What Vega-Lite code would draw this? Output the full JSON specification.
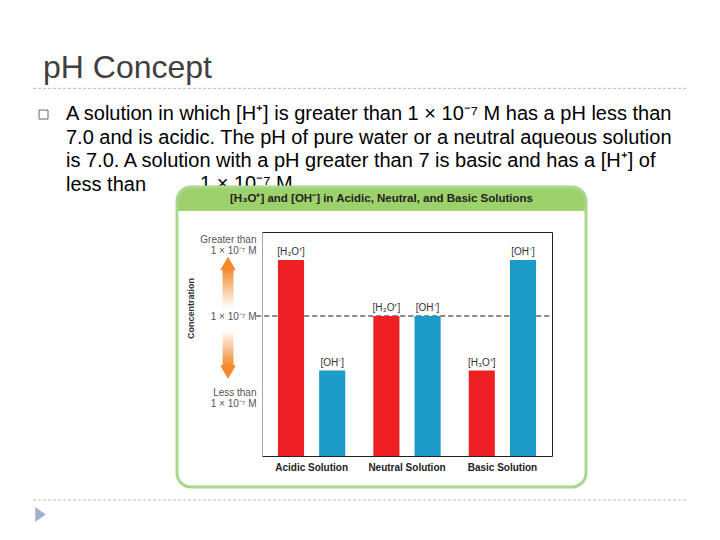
{
  "$schema": "https://vega.github.io/schema/vega-lite/v6.json",
  "width": 290,
  "height": 224,
  "autosize": {"type": "none"},
  "padding": {"left": 262, "top": 232, "right": 168, "bottom": 84},
  "background": "white",
  "config": {"view": {"stroke": "#222", "strokeWidth": 1}, "font": "Liberation Sans"},
  "resolve": {"scale": {"x": "independent"}, "axis": {"x": "independent", "y": "independent"}},
  "layer": [
    {
      "data": {"values": [{}]},
      "layer": [
        {
          "mark": {"type": "rule", "color": "#bdbdbd", "strokeWidth": 1, "strokeDash": [3, 2]},
          "encoding": {
            "x": {"datum": -0.7897, "type": "quantitative", "scale": {"domain": [0, 1], "nice": false, "zero": false}, "axis": null},
            "x2": {"datum": 1.469},
            "y": {"datum": 26.26, "type": "quantitative", "scale": {"domain": [0, 16], "nice": false}, "axis": null}
          }
        },
        {
          "mark": {"type": "rule", "color": "#bdbdbd", "strokeWidth": 1, "strokeDash": [3, 2]},
          "encoding": {
            "x": {"datum": -0.7897, "type": "quantitative", "scale": {"domain": [0, 1], "nice": false, "zero": false}, "axis": null},
            "x2": {"datum": 1.469},
            "y": {"datum": -3.143, "type": "quantitative", "scale": {"domain": [0, 16], "nice": false}, "axis": null}
          }
        },
        {
          "mark": {"type": "point", "shape": "M-0.7,-1L0.7,0L-0.7,1Z", "size": 225, "filled": true, "color": "#9fb0cc", "opacity": 1, "strokeWidth": 0},
          "encoding": {
            "x": {"datum": -0.7638, "type": "quantitative", "scale": {"domain": [0, 1], "nice": false, "zero": false}, "axis": null},
            "y": {"datum": -4.18, "type": "quantitative", "scale": {"domain": [0, 16], "nice": false}, "axis": null}
          }
        },
        {
          "mark": {"type": "point", "shape": "square", "size": 81, "filled": false, "color": "#666", "opacity": 1, "strokeWidth": 1},
          "encoding": {
            "x": {"datum": -0.7534, "type": "quantitative", "scale": {"domain": [0, 1], "nice": false, "zero": false}, "axis": null},
            "y": {"datum": 24.39, "type": "quantitative", "scale": {"domain": [0, 16], "nice": false}, "axis": null}
          }
        },
        {
          "mark": {"type": "text", "text": "pH Concept", "fontSize": 32, "color": "#404040", "align": "left", "baseline": "alphabetic"},
          "encoding": {
            "x": {"datum": -0.7552, "type": "quantitative", "scale": {"domain": [0, 1], "nice": false, "zero": false}, "axis": null},
            "y": {"datum": 27.0, "type": "quantitative", "scale": {"domain": [0, 16], "nice": false}, "axis": null}
          }
        },
        {
          "mark": {"type": "text", "text": ["A solution in which [H⁺] is greater than 1 × 10⁻⁷ M has a pH less than", "7.0 and is acidic. The pH of pure water or a neutral aqueous solution", "is 7.0. A solution with a pH greater than 7 is basic and has a [H⁺] of", "less than"], "fontSize": 20, "lineHeight": 23.5, "color": "#000", "align": "left", "baseline": "alphabetic"},
          "encoding": {
            "x": {"datum": -0.6759, "type": "quantitative", "scale": {"domain": [0, 1], "nice": false, "zero": false}, "axis": null},
            "y": {"datum": 24.0, "type": "quantitative", "scale": {"domain": [0, 16], "nice": false}, "axis": null}
          }
        },
        {
          "mark": {"type": "text", "text": "1 × 10⁻⁷ M", "fontSize": 20, "color": "#000", "align": "left", "baseline": "alphabetic"},
          "encoding": {
            "x": {"datum": -0.2138, "type": "quantitative", "scale": {"domain": [0, 1], "nice": false, "zero": false}, "axis": null},
            "y": {"datum": 19.0, "type": "quantitative", "scale": {"domain": [0, 16], "nice": false}, "axis": null}
          }
        },
        {
          "mark": {"type": "rect", "fill": "#9dd16b", "cornerRadiusTopLeft": 12, "cornerRadiusTopRight": 12},
          "encoding": {
            "x": {"datum": -0.2931, "type": "quantitative", "scale": {"domain": [0, 1], "nice": false, "zero": false}, "axis": null},
            "x2": {"datum": 1.1172},
            "y": {"datum": 19.21, "type": "quantitative", "scale": {"domain": [0, 16], "nice": false}, "axis": null},
            "y2": {"datum": 17.5}
          }
        },
        {
          "mark": {"type": "text", "text": "[H₃O⁺] and [OH⁻] in Acidic, Neutral, and Basic Solutions", "fontSize": 11.5, "fontWeight": "bold", "color": "#222", "align": "center", "baseline": "middle"},
          "encoding": {
            "x": {"datum": 0.412, "type": "quantitative", "scale": {"domain": [0, 1], "nice": false, "zero": false}, "axis": null},
            "y": {"datum": 18.36, "type": "quantitative", "scale": {"domain": [0, 16], "nice": false}, "axis": null}
          }
        },
        {
          "mark": {"type": "rect", "fill": "white", "fillOpacity": 0, "stroke": "#a8d88c", "strokeWidth": 3, "cornerRadius": 14},
          "encoding": {
            "x": {"datum": -0.2931, "type": "quantitative", "scale": {"domain": [0, 1], "nice": false, "zero": false}, "axis": null},
            "x2": {"datum": 1.1172},
            "y": {"datum": 19.21, "type": "quantitative", "scale": {"domain": [0, 16], "nice": false}, "axis": null},
            "y2": {"datum": -2.214}
          }
        },
        {
          "mark": {"type": "rect", "fill": {"gradient": "linear", "x1": 0, "y1": 0, "x2": 0, "y2": 1, "stops": [{"offset": 0, "color": "#f28a2e"}, {"offset": 1, "color": "#ffffff"}]}},
          "encoding": {
            "x": {"datum": -0.136, "type": "quantitative", "scale": {"domain": [0, 1], "nice": false, "zero": false}, "axis": null},
            "x2": {"datum": -0.0983},
            "y": {"datum": 13.36, "type": "quantitative", "scale": {"domain": [0, 16], "nice": false}, "axis": null},
            "y2": {"datum": 10.57}
          }
        },
        {
          "mark": {"type": "rect", "fill": {"gradient": "linear", "x1": 0, "y1": 0, "x2": 0, "y2": 1, "stops": [{"offset": 0, "color": "#ffffff"}, {"offset": 1, "color": "#f28a2e"}]}},
          "encoding": {
            "x": {"datum": -0.136, "type": "quantitative", "scale": {"domain": [0, 1], "nice": false, "zero": false}, "axis": null},
            "x2": {"datum": -0.0983},
            "y": {"datum": 9.0, "type": "quantitative", "scale": {"domain": [0, 16], "nice": false}, "axis": null},
            "y2": {"datum": 6.43}
          }
        },
        {
          "mark": {"type": "point", "shape": "triangle-up", "size": 250, "filled": true, "color": "#f28a2e", "opacity": 1, "strokeWidth": 0},
          "encoding": {
            "x": {"datum": -0.1172, "type": "quantitative", "scale": {"domain": [0, 1], "nice": false, "zero": false}, "axis": null},
            "y": {"datum": 13.75, "type": "quantitative", "scale": {"domain": [0, 16], "nice": false}, "axis": null}
          }
        },
        {
          "mark": {"type": "point", "shape": "triangle-down", "size": 250, "filled": true, "color": "#f28a2e", "opacity": 1, "strokeWidth": 0},
          "encoding": {
            "x": {"datum": -0.1172, "type": "quantitative", "scale": {"domain": [0, 1], "nice": false, "zero": false}, "axis": null},
            "y": {"datum": 5.99, "type": "quantitative", "scale": {"domain": [0, 16], "nice": false}, "axis": null}
          }
        },
        {
          "mark": {"type": "rule", "color": "#111", "strokeWidth": 1, "strokeDash": [5, 3]},
          "encoding": {
            "x": {"datum": -0.02, "type": "quantitative", "scale": {"domain": [0, 1], "nice": false, "zero": false}, "axis": null},
            "x2": {"datum": 1},
            "y": {"datum": 10, "type": "quantitative", "scale": {"domain": [0, 16], "nice": false}, "axis": null}
          }
        }
      ]
    },
    {
      "data": {"values": [
        {"solution": "Acidic Solution", "ion": "[H₃O⁺]", "value": 14},
        {"solution": "Acidic Solution", "ion": "[OH⁻]", "value": 6.1},
        {"solution": "Neutral Solution", "ion": "[H₃O⁺]", "value": 10},
        {"solution": "Neutral Solution", "ion": "[OH⁻]", "value": 10},
        {"solution": "Basic Solution", "ion": "[H₃O⁺]", "value": 6.1},
        {"solution": "Basic Solution", "ion": "[OH⁻]", "value": 14}
      ]},
      "encoding": {
        "x": {"field": "solution", "type": "nominal", "sort": ["Acidic Solution", "Neutral Solution", "Basic Solution"], "scale": {"paddingInner": 0, "paddingOuter": 0.02},
          "axis": {"title": null, "labelAngle": 0, "labelFontWeight": "bold", "labelFontSize": 10, "labelColor": "#222", "ticks": false, "tickSize": 0, "domain": false, "labelPadding": 6}},
        "xOffset": {"field": "ion", "type": "nominal", "sort": ["[H₃O⁺]", "[OH⁻]"], "scale": {"paddingInner": 0.366, "paddingOuter": 0.341}},
        "y": {"field": "value", "type": "quantitative", "scale": {"domain": [0, 16], "nice": false},
          "axis": {"title": "Concentration", "titleFontSize": 9, "titleFontWeight": "bold", "titleColor": "#333", "titleAngle": -90, "titleX": -72, "titleY": 76, "titleAlign": "center", "titleBaseline": "middle",
            "values": [4.57, 10, 15.46], "labelExpr": "datum.value > 12 ? ['Greater than', '1 × 10⁻⁷ M'] : (datum.value < 8 ? ['Less than', '1 × 10⁻⁷ M'] : '1 × 10⁻⁷ M')",
            "labelFontSize": 10, "labelColor": "#555", "labelLineHeight": 11, "ticks": false, "tickSize": 0, "grid": false, "domainColor": "#aaa", "labelPadding": 6, "zindex": 1}}
      },
      "layer": [
        {
          "mark": {"type": "bar"},
          "encoding": {
            "color": {"field": "ion", "type": "nominal", "scale": {"domain": ["[H₃O⁺]", "[OH⁻]"], "range": ["#ed2024", "#1b9bc8"]}, "legend": null}
          }
        },
        {
          "mark": {"type": "text", "dy": -3, "baseline": "bottom", "fontSize": 10, "color": "#333"},
          "encoding": {"text": {"field": "ion", "type": "nominal"}}
        }
      ]
    }
  ]
}
